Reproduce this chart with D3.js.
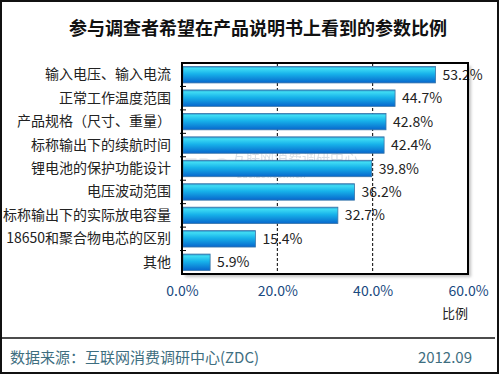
<!DOCTYPE html>
<meta charset="utf-8">
<style>
  body { margin: 0; background: #fff; }
  text { font-family: "Noto Sans CJK SC", sans-serif; }
</style>
<body>
<svg width="500" height="375"></svg>
<script src="https://cdn.jsdelivr.net/npm/d3@7"></script>
<script>

var categories = ["输入电压、输入电流", "正常工作温度范围", "产品规格（尺寸、重量）", "标称输出下的续航时间",
    "锂电池的保护功能设计", "电压波动范围", "标称输出下的实际放电容量", "18650和聚合物电芯的区别", "其他"];
var values = [53.2, 44.7, 42.8, 42.4, 39.8, 36.2, 32.7, 15.4, 5.9];
var xTicks = [0, 20, 40, 60];

var svg = d3.select("svg");

var margin = {top: 63, left: 182, right: 32, bottom: 101},
    width = 500 - margin.left - margin.right,
    height = 375 - margin.top - margin.bottom;

// outer frame
svg.append("rect")
    .attr("x", 1).attr("y", 1).attr("width", 497).attr("height", 372)
    .attr("fill", "none").attr("stroke", "#111").attr("stroke-width", 2);

// title
svg.append("text")
    .attr("x", 258).attr("y", 35)
    .attr("text-anchor", "middle")
    .style("font-size", "18px").style("font-weight", "bold")
    .attr("fill", "#111")
    .text("参与调查者希望在产品说明书上看到的参数比例");

var defs = svg.append("defs");
var grad = defs.append("linearGradient")
    .attr("id", "barGrad").attr("x1", 0).attr("y1", 0).attr("x2", 0).attr("y2", 1);
grad.append("stop").attr("offset", "0%").attr("stop-color", "#2a8fc8");
grad.append("stop").attr("offset", "12%").attr("stop-color", "#3fdcf4");
grad.append("stop").attr("offset", "45%").attr("stop-color", "#17b2ea");
grad.append("stop").attr("offset", "100%").attr("stop-color", "#0766cc");

var filter = defs.append("filter").attr("id", "shadow");
filter.append("feDropShadow")
    .attr("dx", 3).attr("dy", 3).attr("stdDeviation", 1.5)
    .attr("flood-color", "#999").attr("flood-opacity", 0.6);

var x = d3.scaleLinear().domain([0, 60]).range([0, width]);
var y = d3.scaleBand().domain(categories).range([0, height]).paddingInner(0.3).paddingOuter(0.15);
var yb = d3.scaleBand().domain(categories).range([0, height]);

var g = svg.append("g")
    .attr("transform", "translate(" + margin.left + "," + margin.top + ")");

// plot box with shadow
g.append("rect")
    .attr("width", width).attr("height", height)
    .attr("fill", "#fff").attr("filter", "url(#shadow)");

// watermark
g.append("text")
    .attr("x", 2).attr("y", 112)
    .style("font-size", "22px").style("font-weight", "bold").attr("fill", "#e4e8ec").attr("opacity", 0.7)
    .text("ZDC");
g.append("text")
    .attr("x", 50).attr("y", 100)
    .style("font-size", "14px").attr("fill", "#d0d8e0").attr("opacity", 0.8)
    .text("互联网消费调研中心");
g.append("text")
    .attr("x", 55).attr("y", 115)
    .style("font-size", "10px").attr("fill", "#d0d8e0").attr("opacity", 0.8)
    .text("zdc.zol.com.cn");

// dashed gridlines
g.selectAll(".grid")
    .data(xTicks.slice(1, -1))
    .enter().append("line")
    .attr("x1", function (d) { return x(d); })
    .attr("x2", function (d) { return x(d); })
    .attr("y1", 0).attr("y2", height)
    .attr("stroke", "#000").attr("stroke-dasharray", "3,2");

// bars
g.selectAll(".bar")
    .data(values)
    .enter().append("rect")
    .attr("class", "bar")
    .attr("x", 1)
    .attr("y", function (d, i) { return y(categories[i]); })
    .attr("width", function (d) { return x(d) - 1; })
    .attr("height", y.bandwidth())
    .attr("fill", "url(#barGrad)")
    .attr("stroke", "#3a76a8").attr("stroke-width", 0.8);

// value labels
g.selectAll(".val")
    .data(values)
    .enter().append("text")
    .attr("x", function (d) { return x(d) + 7; })
    .attr("y", function (d, i) { return y(categories[i]) + y.bandwidth() / 2 + 5; })
    .style("font-size", "14px").attr("fill", "#222")
    .text(function (d) { return d.toFixed(1) + "%"; });

// left axis
var yAxis = g.append("g")
    .call(d3.axisLeft(yb).tickSize(0).tickPadding(11));
yAxis.select(".domain").remove();
yAxis.selectAll("text").style("font-size", "14px").attr("fill", "#222")
    .attr("font-family", "Noto Sans CJK SC, sans-serif");

// boundary tick marks
g.selectAll(".btick")
    .data(categories.slice(1))
    .enter().append("line")
    .attr("x1", -2).attr("x2", 4)
    .attr("y1", function (d) { return yb(d); })
    .attr("y2", function (d) { return yb(d); })
    .attr("stroke", "#000");

// box border
g.append("rect")
    .attr("width", width).attr("height", height)
    .attr("fill", "none").attr("stroke", "#000").attr("stroke-width", 2);

// x axis labels
var xAxis = g.append("g")
    .attr("transform", "translate(0," + height + ")")
    .call(d3.axisBottom(x).tickValues(xTicks).tickSize(0).tickPadding(12)
        .tickFormat(function (d) { return d.toFixed(1) + "%"; }));
xAxis.select(".domain").remove();
xAxis.selectAll("text").style("font-size", "14px").attr("fill", "#1a4a80")
    .attr("font-family", "Noto Sans CJK SC, sans-serif");

svg.append("text")
    .attr("x", 455).attr("y", 318)
    .attr("text-anchor", "middle")
    .style("font-size", "13px").attr("fill", "#222")
    .text("比例");

// footer
svg.append("line")
    .attr("x1", 0).attr("x2", 495).attr("y1", 338).attr("y2", 338)
    .attr("stroke", "#111").attr("stroke-width", 1.5);
svg.append("text")
    .attr("x", 10).attr("y", 363)
    .style("font-size", "15px").attr("fill", "#3e6e80")
    .text("数据来源：互联网消费调研中心(ZDC)");
svg.append("text")
    .attr("x", 472).attr("y", 363)
    .attr("text-anchor", "end")
    .style("font-size", "15px").attr("fill", "#3e6e80")
    .text("2012.09");

</script>
</body>
